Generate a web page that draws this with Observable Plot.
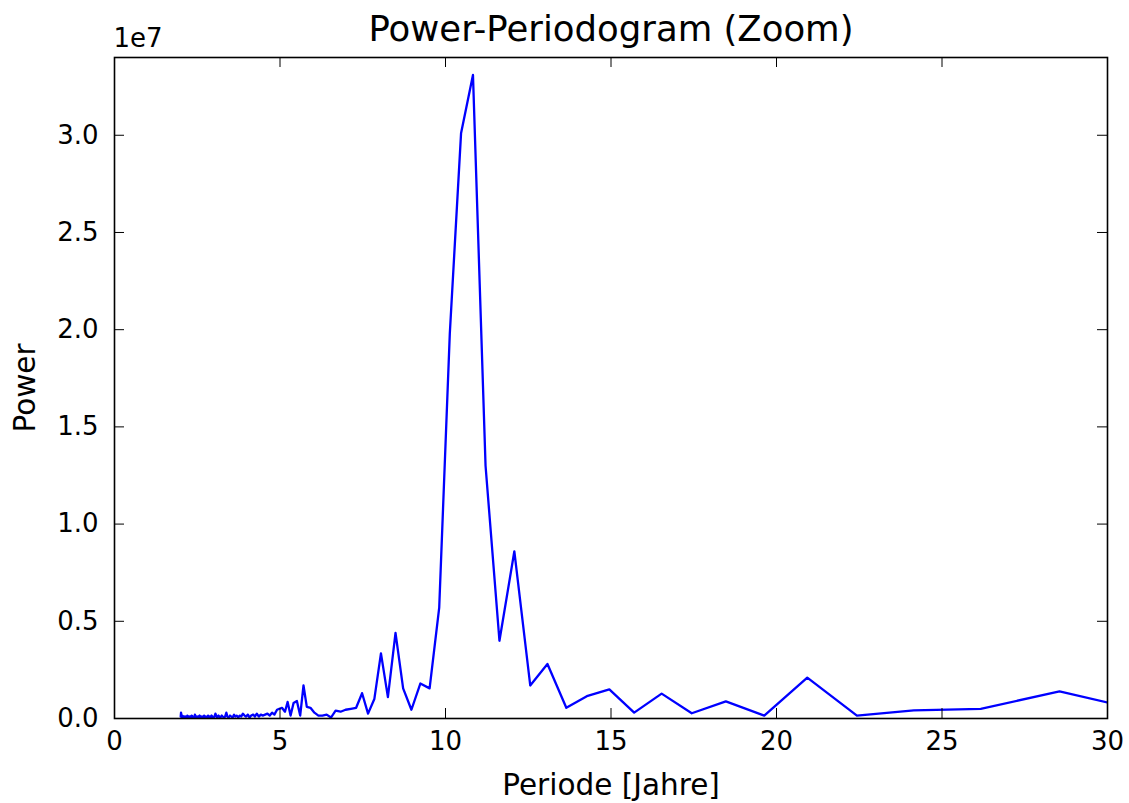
<!DOCTYPE html>
<html><head><meta charset="utf-8">
<script src="https://cdn.jsdelivr.net/npm/d3@7"></script>
<script src="https://cdn.jsdelivr.net/npm/@observablehq/plot@0.6"></script>
<style>body{margin:0;background:#fff;}</style>
</head><body><div id="chart"></div>
<script>
const periods = [31.40, 28.55, 26.17, 24.15, 22.43, 20.93, 19.63, 18.47, 17.44, 16.53,
  15.70, 14.95, 14.27, 13.65, 13.08, 12.56, 12.08, 11.63, 11.21, 10.83,
  10.47, 10.13, 9.81, 9.52, 9.24, 8.97, 8.72, 8.49, 8.26, 8.05,
  7.85, 7.66, 7.48, 7.30, 7.14, 6.98, 6.83, 6.68, 6.54, 6.41,
  6.28, 6.16, 6.04, 5.92, 5.81, 5.71, 5.61, 5.51, 5.41, 5.32,
  5.23, 5.15, 5.06, 4.98, 4.91, 4.83, 4.76, 4.69, 4.62, 4.55,
  4.49, 4.42, 4.36, 4.30, 4.24, 4.19, 4.13, 4.08, 4.03, 3.97,
  3.93, 3.88, 3.83, 3.78, 3.74, 3.69, 3.65, 3.61, 3.57, 3.53,
  3.49, 3.45, 3.41, 3.38, 3.34, 3.31, 3.27, 3.24, 3.20, 3.17,
  3.14, 3.11, 3.08, 3.05, 3.02, 2.99, 2.96, 2.93, 2.91, 2.88,
  2.85, 2.83, 2.80, 2.78, 2.75, 2.73, 2.71, 2.68, 2.66, 2.64,
  2.62, 2.60, 2.57, 2.55, 2.53, 2.51, 2.49, 2.47, 2.45, 2.43,
  2.42, 2.40, 2.38, 2.36, 2.34, 2.33, 2.31, 2.29, 2.28, 2.26,
  2.24, 2.23, 2.21, 2.20, 2.18, 2.17, 2.15, 2.14, 2.12, 2.11,
  2.09, 2.08, 2.07, 2.05, 2.04, 2.03, 2.01, 2.00];
const power = [0.27e6, 1.39e6, 0.50e6, 0.42e6, 0.15e6, 2.10e6, 0.15e6, 0.88e6, 0.27e6, 1.28e6,
  0.30e6, 1.50e6, 1.15e6, 0.55e6, 2.80e6, 1.70e6, 8.60e6, 4.00e6, 13.0e6, 33.1e6,
  30.1e6, 19.8e6, 5.70e6, 1.55e6, 1.80e6, 0.45e6, 1.55e6, 4.40e6, 1.10e6, 3.35e6,
  1.00e6, 0.25e6, 1.30e6, 0.55e6, 0.50e6, 0.45e6, 0.35e6, 0.40e6, 0.05e6, 0.20e6,
  0.15e6, 0.15e6, 0.30e6, 0.55e6, 0.60e6, 1.70e6, 0.15e6, 0.90e6, 0.80e6, 0.15e6,
  0.85e6, 0.35e6, 0.55e6, 0.50e6, 0.45e6, 0.20e6, 0.30e6, 0.15e6, 0.25e6, 0.20e6,
  0.15e6, 0.20e6, 0.10e6, 0.25e6, 0.10e6, 0.20e6, 0.15e6, 0.05e6, 0.20e6, 0.10e6,
  0.15e6, 0.25e6, 0.10e6, 0.15e6, 0.05e6, 0.15e6, 0.10e6, 0.20e6, 0.05e6, 0.10e6,
  0.15e6, 0.05e6, 0.10e6, 0.30e6, 0.10e6, 0.05e6, 0.10e6, 0.15e6, 0.05e6, 0.10e6,
  0.15e6, 0.05e6, 0.10e6, 0.25e6, 0.10e6, 0.05e6, 0.10e6, 0.15e6, 0.05e6, 0.10e6,
  0.05e6, 0.15e6, 0.10e6, 0.05e6, 0.10e6, 0.05e6, 0.15e6, 0.10e6, 0.05e6, 0.10e6,
  0.05e6, 0.10e6, 0.15e6, 0.05e6, 0.10e6, 0.05e6, 0.10e6, 0.05e6, 0.10e6, 0.20e6,
  0.05e6, 0.10e6, 0.05e6, 0.10e6, 0.05e6, 0.15e6, 0.05e6, 0.10e6, 0.05e6, 0.10e6,
  0.05e6, 0.10e6, 0.05e6, 0.15e6, 0.05e6, 0.10e6, 0.05e6, 0.10e6, 0.05e6, 0.10e6,
  0.05e6, 0.10e6, 0.05e6, 0.15e6, 0.05e6, 0.10e6, 0.30e6, 0.10e6];
const xTicks = [0, 5, 10, 15, 20, 25, 30];
const yTicks = [0, 0.5e7, 1.0e7, 1.5e7, 2.0e7, 2.5e7, 3.0e7];
const titleText = "Power-Periodogram (Zoom)";
const xLabel = "Periode [Jahre]";
const yLabel = "Power";
const offsetText = "1e7";

const data = periods.map((p, i) => ({period: p, power: power[i]}));
const font = "DejaVu Sans";
const chart = Plot.plot({
  width: 1129, height: 803,
  marginLeft: 114, marginRight: 22, marginTop: 57, marginBottom: 85,
  style: {fontFamily: font, background: "#fff", color: "#000", overflow: "visible"},
  x: {domain: [0, 30]},
  y: {domain: [0, 3.4e7]},
  marks: [
    Plot.line(data, {x: "period", y: "power", stroke: "#0000ff", strokeWidth: 2.3, clip: true}),
    Plot.frame({stroke: "#000", strokeWidth: 1.6}),
    Plot.tickX(xTicks, {x: d => d, insetTop: 651, stroke: "#000", strokeWidth: 1}),
    Plot.tickX(xTicks, {x: d => d, insetBottom: 651, stroke: "#000", strokeWidth: 1}),
    Plot.tickY(yTicks, {y: d => d, insetRight: 983, stroke: "#000", strokeWidth: 1}),
    Plot.tickY(yTicks, {y: d => d, insetLeft: 983, stroke: "#000", strokeWidth: 1}),
    Plot.axisX(xTicks, {tickSize: 0, tickPadding: 13, fontSize: 26, tickFormat: d => String(d), label: null}),
    Plot.axisY(yTicks, {tickSize: 0, tickPadding: 16, fontSize: 26, tickFormat: d => (d / 1e7).toFixed(1), label: null}),
    Plot.text([titleText], {text: d => d, frameAnchor: "top", lineAnchor: "middle", dy: -28, fontSize: 35.5}),
    Plot.text([offsetText], {text: d => d, frameAnchor: "top-left", textAnchor: "start", lineAnchor: "middle", dx: -1, dy: -19, fontSize: 26}),
    Plot.text([xLabel], {text: d => d, frameAnchor: "bottom", lineAnchor: "middle", dy: 67, fontSize: 29.5}),
    Plot.text([yLabel], {text: d => d, frameAnchor: "left", textAnchor: "middle", lineAnchor: "middle", dx: -89, rotate: -90, fontSize: 29.5})
  ]
});
document.getElementById("chart").append(chart);
</script>
</body></html>
